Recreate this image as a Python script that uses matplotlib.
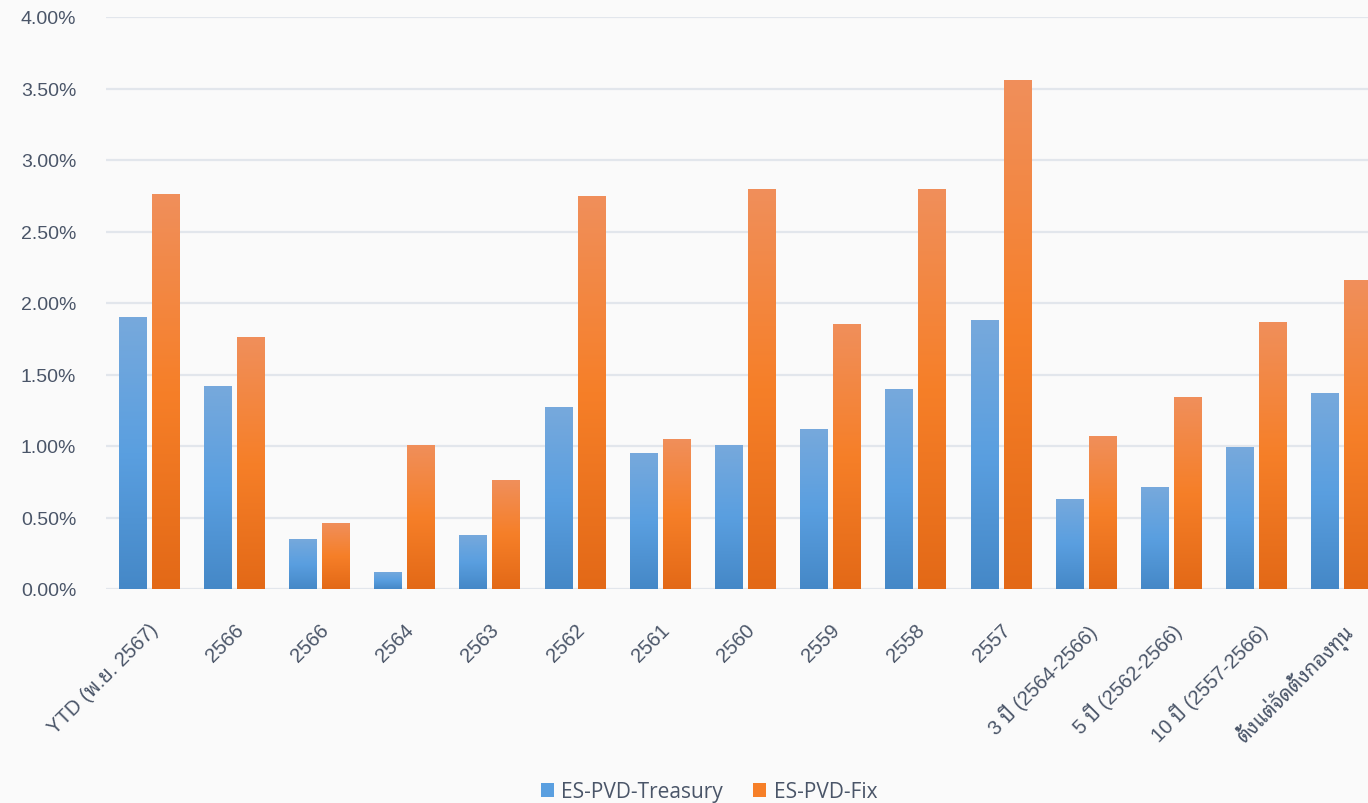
import matplotlib
matplotlib.use("Agg")
import matplotlib.pyplot as plt
import numpy as np
from matplotlib import font_manager
from matplotlib.colors import LinearSegmentedColormap
from matplotlib.patches import Patch

# ---------------- data ----------------
categories = ["YTD (พ.ย. 2567)", "2566", "2566", "2564", "2563", "2562", "2561",
              "2560", "2559", "2558", "2557", "3 ปี (2564-2566)", "5 ปี (2562-2566)",
              "10 ปี (2557-2566)", "ตั้งแต่จัดตั้งกองทุน"]
treasury = [1.90, 1.42, 0.35, 0.12, 0.38, 1.27, 0.95, 1.01, 1.12, 1.40, 1.88, 0.63, 0.71, 0.99, 1.37]
fix = [2.76, 1.76, 0.46, 1.01, 0.76, 2.75, 1.05, 2.80, 1.85, 2.80, 3.56, 1.07, 1.34, 1.87, 2.16]
series_names = ["ES-PVD-Treasury", "ES-PVD-Fix"]
yticks = [0, 0.5, 1.0, 1.5, 2.0, 2.5, 3.0, 3.5, 4.0]

# ---------------- fonts ----------------
available = {f.name for f in font_manager.fontManager.ttflist}
thai_font = None
for cand in ["Noto Sans Thai Looped", "Noto Sans Thai", "Sarabun", "IBM Plex Sans Thai", "Anuphan"]:
    if cand in available:
        thai_font = cand
        break
latin_font = "Liberation Sans" if "Liberation Sans" in available else "DejaVu Sans"
tick_family = [latin_font] + ([thai_font] if thai_font else []) + ["DejaVu Sans"]
legend_family = ["Open Sans" if "Open Sans" in available else "DejaVu Sans"]

text_color = "#4a5568"
bg = "#fafafa"
grid_color = "#e2e6ec"

blue_cmap = LinearSegmentedColormap.from_list("b", ["#4588c7", "#5a9fe0", "#77a9dc"])
orange_cmap = LinearSegmentedColormap.from_list("o", ["#e36917", "#f67f28", "#f08f5b"])

W, H = 1368, 804
fig = plt.figure(figsize=(W / 100, H / 100), dpi=100, facecolor=bg)
ax = fig.add_axes([106 / W, 1 - 590 / H, 1278 / W, 572 / H], facecolor=bg)

x = np.arange(len(categories))
width = 0.317
off = 0.193
b1 = ax.bar(x - off, treasury, width, color="none", edgecolor="none", zorder=3)
b2 = ax.bar(x + off, fix, width, color="none", edgecolor="none", zorder=3)

grad = np.linspace(0, 1, 256).reshape(-1, 1)
for bars, cmap in ((b1, blue_cmap), (b2, orange_cmap)):
    for bar in bars:
        x0 = bar.get_x()
        x1 = x0 + bar.get_width()
        h = bar.get_height()
        im = ax.imshow(grad, extent=[x0, x1, 0, h], origin="lower", cmap=cmap,
                       aspect="auto", zorder=3, interpolation="bilinear")
        im.set_clip_path(bar)

ax.set_xlim(-0.5, len(categories) - 0.5)
ax.set_ylim(0, 4.0)
ax.set_yticks(yticks)
ax.set_yticklabels([f"{v:.2f}%" for v in yticks])
ax.yaxis.grid(True, color=grid_color, linewidth=1.6, zorder=0)
ax.set_axisbelow(True)
for s in ax.spines.values():
    s.set_visible(False)
ax.tick_params(axis="y", length=0, pad=21.5, labelsize=14, labelcolor=text_color)
ax.tick_params(axis="x", length=0, pad=22, labelsize=14.5, labelcolor=text_color)
ax.set_xticks(x)
ax.set_xticklabels(categories, rotation=45, ha="right", va="top", rotation_mode="anchor")
for lab in ax.get_xticklabels() + ax.get_yticklabels():
    lab.set_family(tick_family)

handles = [Patch(facecolor="#5a9fe0", edgecolor="none"), Patch(facecolor="#f67f28", edgecolor="none")]
leg = fig.legend(handles, series_names, loc="center", bbox_to_anchor=(709 / W, 1 - 793 / H),
                 ncol=2, frameon=False, prop={"family": legend_family, "size": 15},
                 handlelength=0.62, handleheight=0.62, handletextpad=0.36, columnspacing=1.45,
                 labelcolor=text_color)

fig.savefig("out.png", dpi=100, facecolor=bg)
